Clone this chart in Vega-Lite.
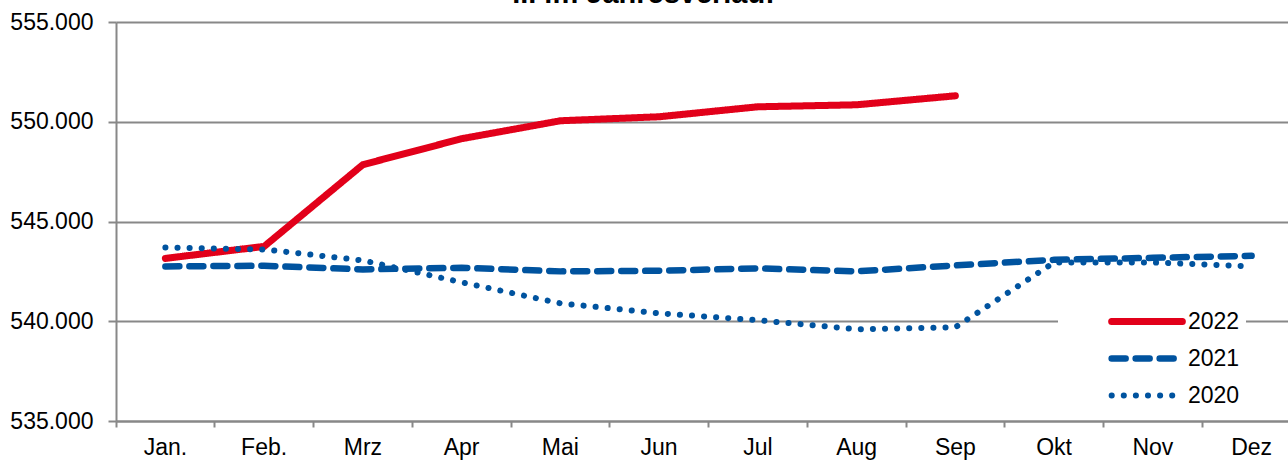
{
  "$schema": "https://vega.github.io/schema/vega-lite/v6.json",
  "width": 1185,
  "height": 399,
  "autosize": {"type": "none"},
  "padding": {"left": 116, "top": 22, "right": 0, "bottom": 40},
  "background": "white",
  "title": {
    "text": "... im Jahresverlauf",
    "font": "Liberation Sans",
    "fontSize": 29,
    "fontWeight": "bold",
    "color": "black",
    "anchor": "middle",
    "dx": -65,
    "offset": 2
  },
  "config": {
    "view": {"stroke": null},
    "font": "Liberation Sans"
  },
  "data": {
    "values": [
      {"Monat": "Jan.", "Jahr": "2022", "Wert": 543150},
      {"Monat": "Feb.", "Jahr": "2022", "Wert": 543750},
      {"Monat": "Mrz", "Jahr": "2022", "Wert": 547850},
      {"Monat": "Apr", "Jahr": "2022", "Wert": 549150},
      {"Monat": "Mai", "Jahr": "2022", "Wert": 550050},
      {"Monat": "Jun", "Jahr": "2022", "Wert": 550250},
      {"Monat": "Jul", "Jahr": "2022", "Wert": 550750},
      {"Monat": "Aug", "Jahr": "2022", "Wert": 550850},
      {"Monat": "Sep", "Jahr": "2022", "Wert": 551300},
      {"Monat": "Jan.", "Jahr": "2021", "Wert": 542750},
      {"Monat": "Feb.", "Jahr": "2021", "Wert": 542780},
      {"Monat": "Mrz", "Jahr": "2021", "Wert": 542600},
      {"Monat": "Apr", "Jahr": "2021", "Wert": 542680},
      {"Monat": "Mai", "Jahr": "2021", "Wert": 542500},
      {"Monat": "Jun", "Jahr": "2021", "Wert": 542530},
      {"Monat": "Jul", "Jahr": "2021", "Wert": 542650},
      {"Monat": "Aug", "Jahr": "2021", "Wert": 542500},
      {"Monat": "Sep", "Jahr": "2021", "Wert": 542800},
      {"Monat": "Okt", "Jahr": "2021", "Wert": 543080},
      {"Monat": "Nov", "Jahr": "2021", "Wert": 543180},
      {"Monat": "Dez", "Jahr": "2021", "Wert": 543280},
      {"Monat": "Jan.", "Jahr": "2020", "Wert": 543700},
      {"Monat": "Feb.", "Jahr": "2020", "Wert": 543600},
      {"Monat": "Mrz", "Jahr": "2020", "Wert": 543050},
      {"Monat": "Apr", "Jahr": "2020", "Wert": 541950},
      {"Monat": "Mai", "Jahr": "2020", "Wert": 540900},
      {"Monat": "Jun", "Jahr": "2020", "Wert": 540400},
      {"Monat": "Jul", "Jahr": "2020", "Wert": 540050},
      {"Monat": "Aug", "Jahr": "2020", "Wert": 539600},
      {"Monat": "Sep", "Jahr": "2020", "Wert": 539700},
      {"Monat": "Okt", "Jahr": "2020", "Wert": 542950},
      {"Monat": "Nov", "Jahr": "2020", "Wert": 542950},
      {"Monat": "Dez", "Jahr": "2020", "Wert": 542750}
    ]
  },
  "mark": {"type": "line", "strokeCap": "round", "strokeJoin": "round"},
  "encoding": {
    "x": {
      "field": "Monat",
      "type": "ordinal",
      "sort": ["Jan.", "Feb.", "Mrz", "Apr", "Mai", "Jun", "Jul", "Aug", "Sep", "Okt", "Nov", "Dez"],
      "scale": {"type": "band", "paddingInner": 0, "paddingOuter": 0},
      "axis": {
        "title": null,
        "labelAngle": 0,
        "bandPosition": 0,
        "labelDx": 49.4,
        "labelFontSize": 23,
        "labelColor": "black",
        "labelPadding": 9,
        "tickSize": 6,
        "tickColor": "#888888",
        "tickWidth": 2,
        "domainColor": "#888888",
        "domainWidth": 2,
        "grid": false
      }
    },
    "y": {
      "field": "Wert",
      "type": "quantitative",
      "scale": {"domain": [535000, 555000], "nice": false, "zero": false},
      "axis": {
        "title": null,
        "values": [535000, 540000, 545000, 550000, 555000],
        "labelExpr": "replace(format(datum.value, ',d'), ',', '.')",
        "labelFontSize": 23,
        "labelColor": "black",
        "labelPadding": 15,
        "tickSize": 8,
        "tickColor": "#888888",
        "tickWidth": 2,
        "domainColor": "#888888",
        "domainWidth": 2,
        "grid": true,
        "gridColor": "#888888",
        "gridWidth": 2
      }
    },
    "color": {
      "field": "Jahr",
      "type": "nominal",
      "scale": {"domain": ["2022", "2021", "2020"], "range": ["#e2001a", "#00539f", "#00539f"]},
      "legend": {
        "title": null,
        "orient": "none",
        "legendX": 942,
        "legendY": 281,
        "fillColor": "white",
        "padding": 6,
        "symbolType": "stroke",
        "symbolSize": 5000,
        "symbolOffset": 44,
        "clipHeight": 25,
        "labelFontSize": 23,
        "labelColor": "black",
        "labelOffset": 2,
        "rowPadding": 12,
        "encode": {"symbols": {"update": {"strokeCap": {"value": "round"}}}}
      }
    },
    "strokeDash": {
      "field": "Jahr",
      "type": "nominal",
      "scale": {"domain": ["2022", "2021", "2020"], "range": [[1, 0], [14, 10], [0.1, 12]]}
    },
    "strokeWidth": {
      "field": "Jahr",
      "type": "nominal",
      "scale": {"domain": ["2022", "2021", "2020"], "range": [7, 6, 6.5]}
    }
  }
}
